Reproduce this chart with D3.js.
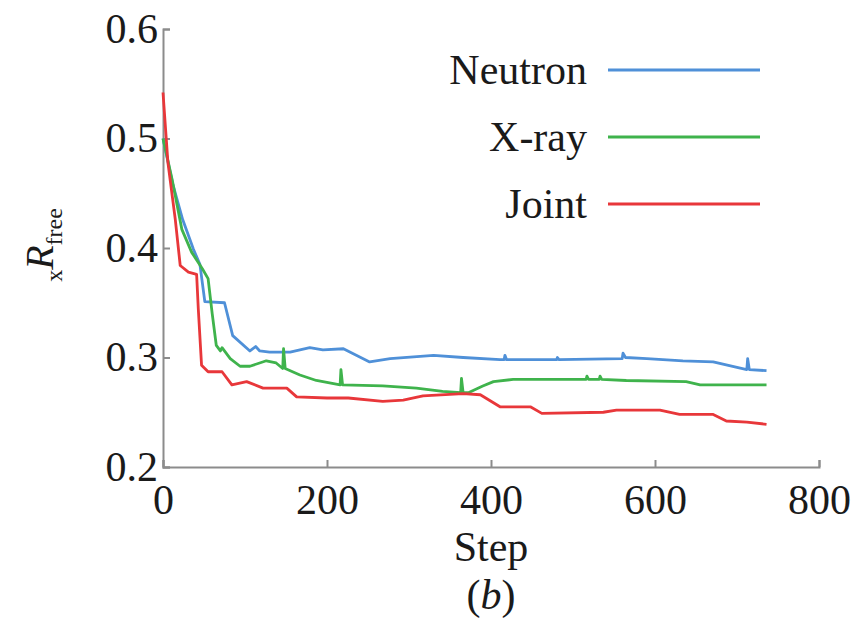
<!DOCTYPE html>
<html lang="en">
<head>
    <meta charset="UTF-8">
    <title>R free vs step</title>
    <script src="https://d3js.org/d3.v7.min.js"></script>
    <style>
        body {
            margin: 0;
            background-color: #ffffff;
        }
        svg text {
            font-family: "Liberation Serif", "DejaVu Serif", serif;
            fill: #1a1a1a;
        }
        .axis path, .axis line {
            stroke: #8c8c8c;
            stroke-width: 2px;
        }
        .axis text {
            font-size: 42px;
        }
        .series {
            fill: none;
            stroke-width: 2.8px;
            stroke-linejoin: round;
        }
    </style>
</head>
<body>
    <svg id="chart" width="861" height="632"></svg>
    <script>
        // series as [step, Rfree] pairs
        const seriesNames = ['Neutron', 'X-ray', 'Joint'];
        const seriesColors = ['#4f90d8', '#3fb34c', '#e8373a'];

        const neutron = [
            [0, 0.50], [12, 0.458], [24, 0.426], [37, 0.399], [45, 0.385], [51, 0.351],
            [75, 0.350], [85, 0.320], [106, 0.306], [113, 0.310], [118, 0.306], [130, 0.305],
            [155, 0.305], [179, 0.309], [195, 0.307], [220, 0.308], [252, 0.296], [277, 0.299],
            [330, 0.302], [366, 0.300], [411, 0.298], [416, 0.298], [417, 0.302], [419, 0.298],
            [480, 0.298], [481, 0.300], [483, 0.298], [560, 0.299], [561, 0.304], [564, 0.300],
            [590, 0.299], [634, 0.297], [671, 0.296], [700, 0.291], [712, 0.289], [713, 0.299],
            [715, 0.289], [736, 0.288]
        ];

        const xray = [
            [0, 0.50], [11, 0.463], [23, 0.417], [35, 0.396], [48, 0.381], [55, 0.372],
            [60, 0.340], [65, 0.311], [70, 0.306], [72, 0.309], [82, 0.299], [94, 0.292],
            [106, 0.292], [126, 0.297], [138, 0.295], [146, 0.290], [147, 0.308], [149, 0.290],
            [167, 0.284], [187, 0.279], [216, 0.275], [217, 0.289], [219, 0.275], [268, 0.274],
            [309, 0.272], [341, 0.269], [363, 0.268], [364, 0.281], [366, 0.268], [373, 0.268],
            [390, 0.274], [403, 0.278], [427, 0.280], [516, 0.280], [517, 0.283], [519, 0.280],
            [532, 0.280], [533, 0.283], [535, 0.280], [565, 0.279], [638, 0.278], [655, 0.275],
            [736, 0.275]
        ];

        const joint = [
            [0, 0.542], [6, 0.478], [15, 0.426], [21, 0.384], [31, 0.378], [41, 0.376],
            [43, 0.345], [47, 0.293], [55, 0.287], [72, 0.287], [84, 0.275], [102, 0.278],
            [122, 0.272], [151, 0.272], [163, 0.264], [200, 0.263], [226, 0.263], [268, 0.260],
            [293, 0.261], [317, 0.265], [366, 0.267], [387, 0.266], [411, 0.255], [448, 0.255],
            [462, 0.249], [537, 0.250], [553, 0.252], [606, 0.252], [630, 0.248], [671, 0.248],
            [687, 0.242], [712, 0.241], [736, 0.239]
        ];

        const allSeries = [neutron, xray, joint];
        const xTicks = [0, 200, 400, 600, 800];
        const yTicks = [0.2, 0.3, 0.4, 0.5, 0.6];

        const svg = d3.select('#chart');
        const plot = { left: 163, right: 819, top: 29, bottom: 467 };

        const x = d3.scaleLinear().domain([0, 800]).range([plot.left, plot.right]);
        const y = d3.scaleLinear().domain([0.2, 0.6]).range([plot.bottom, plot.top]);

        // axes with inward ticks
        svg.append('g')
            .attr('class', 'axis')
            .attr('transform', `translate(0,${plot.bottom})`)
            .call(d3.axisBottom(x).tickValues(xTicks).tickFormat(d3.format('d'))
                .tickSizeInner(-7).tickSizeOuter(-7).tickPadding(17));

        svg.append('g')
            .attr('class', 'axis')
            .attr('transform', `translate(${plot.left},0)`)
            .call(d3.axisLeft(y).tickValues(yTicks).tickFormat(d3.format('.1f'))
                .tickSizeInner(-7).tickSizeOuter(-7).tickPadding(5));

        // lines
        const line = d3.line().x(d => x(d[0])).y(d => y(d[1]));
        allSeries.forEach((s, i) => {
            svg.append('path')
                .datum(s)
                .attr('class', 'series')
                .attr('stroke', seriesColors[i])
                .attr('d', line);
        });

        // legend
        const legend = svg.append('g').attr('transform', 'translate(587,70)');
        seriesNames.forEach((name, i) => {
            const g = legend.append('g').attr('transform', `translate(0,${i * 67})`);
            g.append('text')
                .attr('x', 0)
                .attr('dy', '0.33em')
                .attr('text-anchor', 'end')
                .style('font-size', '42px')
                .text(name);
            g.append('line')
                .attr('x1', 21).attr('x2', 173)
                .attr('stroke', seriesColors[i])
                .attr('stroke-width', 3);
        });

        // axis titles
        svg.append('text')
            .attr('x', (plot.left + plot.right) / 2)
            .attr('y', 561)
            .attr('text-anchor', 'middle')
            .style('font-size', '42px')
            .text('Step');

        const caption = svg.append('text')
            .attr('x', (plot.left + plot.right) / 2)
            .attr('y', 609)
            .attr('text-anchor', 'middle')
            .style('font-size', '42px');
        caption.append('tspan').text('(');
        caption.append('tspan').style('font-style', 'italic').text('b');
        caption.append('tspan').text(')');

        const yLabel = svg.append('text')
            .attr('transform', 'translate(53,245) rotate(-90)')
            .attr('text-anchor', 'middle');
        yLabel.append('tspan').attr('dy', 9).style('font-size', '24px').text('x');
        yLabel.append('tspan').attr('dy', -9).style('font-size', '40px').style('font-style', 'italic').text('R');
        yLabel.append('tspan').attr('dy', 9).style('font-size', '24px').text('free');
    </script>
</body>
</html>
